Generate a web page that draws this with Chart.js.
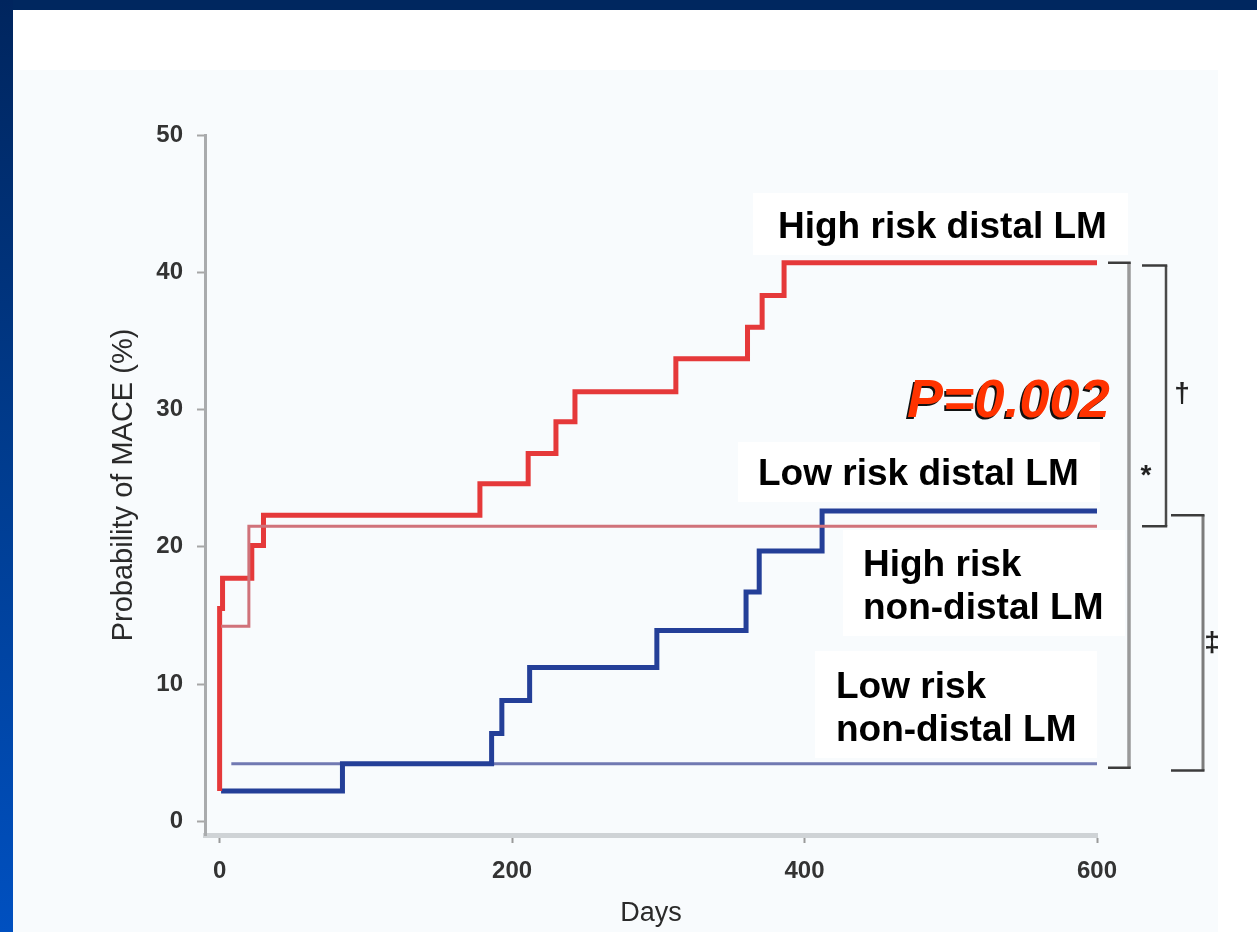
<!DOCTYPE html>
<html lang="en">
<head>
<meta charset="utf-8">
<title>Probability of MACE - distal vs non-distal LM</title>
<script src="https://cdn.jsdelivr.net/npm/chart.js@4.4.1/dist/chart.umd.min.js"></script>
<style>
    html, body { margin: 0; padding: 0; overflow: hidden; background: #ffffff; }
    #slide { position: relative; width: 1257px; height: 932px; background: #ffffff; }
    .bar-top { position: absolute; left: 0; top: 0; width: 1257px; height: 10px; background: #00275f; }
    .bar-left { position: absolute; left: 0; top: 0; width: 13px; height: 932px;
                background: linear-gradient(#00255e, #003c8f 50%, #0050c0); }
    .panel { position: absolute; left: 13px; top: 70px; width: 1205px; height: 862px; background: #f8fbfd; }
    #kmChart { position: absolute; left: 0; top: 0; }
</style>
</head>
<body>
<div id="slide">
    <div class="bar-top"></div>
    <div class="bar-left"></div>
    <div class="panel"></div>
    <canvas id="kmChart" width="1257" height="932"></canvas>
</div>
<script>
// values: days since PCI / cumulative MACE (%)
const xTickValues = [0, 200, 400, 600];
const yTickValues = [0, 10, 20, 30, 40, 50];

const highDistalDays = [0, 0, 2, 22, 30, 178, 211, 230, 243, 312, 361, 371, 386, 600];
const highDistalPct  = [2.2, 15.5, 17.7, 20.1, 22.3, 24.6, 26.8, 29.1, 31.3, 33.7, 36.0, 38.3, 40.7, 40.7];

const lowDistalDays = [1, 84, 186, 193, 212, 299, 360, 369, 412, 600];
const lowDistalPct  = [2.2, 4.2, 6.4, 8.8, 11.2, 13.9, 16.7, 19.7, 22.6, 22.6];

const highNonDistalDays = [1, 20, 600];
const highNonDistalPct  = [14.2, 21.5, 21.5];

const lowNonDistalDays = [8, 600];
const lowNonDistalPct  = [4.2, 4.2];

const FONT = "'Liberation Sans', Arial, sans-serif";

function toPoints(days, pct) {
    return days.map((d, i) => ({ x: d, y: pct[i] }));
}

// labels, p value, brackets and the white boxes behind the labels
const slideAnnotations = {
    id: 'slideAnnotations',
    beforeDatasetsDraw(chart) {
        const ctx = chart.ctx;
        ctx.save();
        ctx.fillStyle = '#ffffff';
        [[753, 193, 375, 62], [738, 442, 362, 60], [843, 530, 282, 106], [815, 651, 282, 107]]
            .forEach(b => ctx.fillRect(b[0], b[1], b[2], b[3]));
        ctx.restore();
    },
    afterDraw(chart) {
        const ctx = chart.ctx;
        const y = chart.scales.y;
        const right = chart.chartArea.right;
        ctx.save();

        // curve labels
        ctx.fillStyle = '#000000';
        ctx.font = `bold 37px ${FONT}`;
        ctx.textBaseline = 'alphabetic';
        ctx.fillText('High risk distal LM', 778, 238);
        ctx.fillText('Low risk distal LM', 758, 485);
        ctx.fillText('High risk', 863, 576);
        ctx.fillText('non-distal LM', 863, 619);
        ctx.fillText('Low risk', 836, 698);
        ctx.fillText('non-distal LM', 836, 741);

        // P value with its dark drop shadow
        ctx.font = `italic bold 54px ${FONT}`;
        ctx.fillStyle = '#111111';
        ctx.fillText('P=0.002', 905, 419);
        ctx.fillStyle = '#ff3300';
        ctx.fillText('P=0.002', 907, 417);

        // brackets between the curves
        const bracket = (xTip, xSpine, vTop, vBottom, spineColor, spineWidth) => {
            const top = y.getPixelForValue(vTop);
            const bottom = y.getPixelForValue(vBottom);
            ctx.lineCap = 'butt';
            ctx.strokeStyle = spineColor;
            ctx.lineWidth = spineWidth;
            ctx.beginPath();
            ctx.moveTo(xSpine, top);
            ctx.lineTo(xSpine, bottom);
            ctx.stroke();
            ctx.strokeStyle = '#3c3c3c';
            ctx.lineWidth = 2.5;
            ctx.beginPath();
            ctx.moveTo(xTip, top);
            ctx.lineTo(xSpine + spineWidth / 2, top);
            ctx.moveTo(xTip, bottom);
            ctx.lineTo(xSpine + spineWidth / 2, bottom);
            ctx.stroke();
        };
        bracket(right + 11, right + 32, 40.7, 3.9, '#9a9a9a', 3.5);
        bracket(right + 45, right + 69, 40.5, 21.5, '#4a4a4a', 2.5);
        bracket(right + 74, right + 106, 22.3, 3.7, '#7c7c7c', 3);

        ctx.fillStyle = '#222222';
        ctx.font = `bold 28px ${FONT}`;
        ctx.textAlign = 'center';
        ctx.textBaseline = 'middle';
        ctx.fillText('\u2020', right + 85, 394);
        ctx.fillText('*', right + 49, 476);
        ctx.fillText('\u2021', right + 115, 643);

        ctx.restore();
    }
};

const tickFont = { family: FONT, size: 24, weight: 'bold' };

const kmChart = new Chart(document.getElementById('kmChart'), {
    type: 'line',
    data: {
        datasets: [
            {
                label: 'High risk distal LM',
                data: toPoints(highDistalDays, highDistalPct),
                borderColor: '#e5393a',
                borderWidth: 5,
                order: 1
            },
            {
                label: 'Low risk distal LM',
                data: toPoints(lowDistalDays, lowDistalPct),
                borderColor: '#243f98',
                borderWidth: 5,
                order: 2
            },
            {
                label: 'High risk non-distal LM',
                data: toPoints(highNonDistalDays, highNonDistalPct),
                borderColor: '#d0727a',
                borderWidth: 3,
                order: 0
            },
            {
                label: 'Low risk non-distal LM',
                data: toPoints(lowNonDistalDays, lowNonDistalPct),
                borderColor: '#7179b2',
                borderWidth: 3,
                order: 3
            }
        ]
    },
    options: {
        responsive: false,
        animation: false,
        elements: {
            point: { radius: 0 },
            line: { stepped: 'before', borderJoinStyle: 'miter', borderCapStyle: 'butt' }
        },
        layout: { padding: { top: 135, right: 160, left: 0, bottom: 0 } },
        plugins: {
            legend: { display: false },
            tooltip: { enabled: false }
        },
        scales: {
            x: {
                type: 'linear',
                min: -10,
                max: 600,
                afterBuildTicks: axis => { axis.ticks = xTickValues.map(v => ({ value: v })); },
                afterFit: axis => { axis.height = 97; },
                ticks: { font: tickFont, color: '#333333', padding: 14, maxRotation: 0 },
                grid: { drawOnChartArea: false, drawTicks: true, tickLength: 8, tickColor: '#9a9a9a', tickWidth: 2 },
                border: { color: '#cfd3d6', width: 5 },
                title: { display: true, text: 'Days', color: '#2a2a2a', font: { family: FONT, size: 27 }, padding: { bottom: 2 } }
            },
            y: {
                type: 'linear',
                min: -1,
                max: 50,
                afterBuildTicks: axis => { axis.ticks = yTickValues.map(v => ({ value: v })); },
                afterFit: axis => { axis.width = 205; },
                ticks: { font: tickFont, color: '#333333', padding: 14 },
                grid: { drawOnChartArea: false, drawTicks: true, tickLength: 8, tickColor: '#a6a6a6', tickWidth: 2 },
                border: { color: '#a9abad', width: 3 },
                title: { display: true, text: 'Probability of MACE (%)', color: '#2a2a2a', font: { family: FONT, size: 29 }, padding: { top: 107 } }
            }
        }
    },
    plugins: [slideAnnotations]
});
</script>
</body>
</html>
